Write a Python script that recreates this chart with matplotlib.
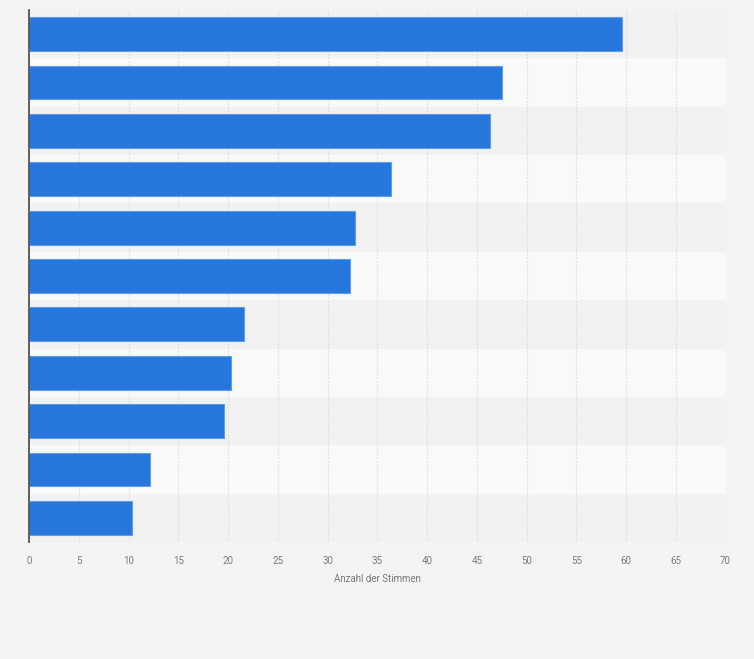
import matplotlib
matplotlib.use("Agg")
import matplotlib.pyplot as plt
import numpy as np

categories = ["A", "B", "C", "D", "E", "F", "G", "H", "I", "J", "K"]
values = [59.6, 47.5, 46.3, 36.4, 32.7, 32.2, 21.6, 20.3, 19.6, 12.1, 10.3]
xticks = list(range(0, 75, 5))
xlabel = "Anzahl der Stimmen"

plt.rcParams['font.family'] = ['Roboto', 'DejaVu Sans']

fig = plt.figure(figsize=(7.54, 6.59), dpi=100, facecolor="#f4f4f4")
ax = fig.add_axes([29.3 / 754, 1 - 542 / 659, (725.5 - 29.3) / 754, (542 - 10) / 659])
ax.set_facecolor("#f9f9f9")

n = len(categories)
y = np.arange(n)
for i in range(n):
    ax.axhspan(i - 0.5, i + 0.5, color="#f2f2f2" if i % 2 == 0 else "#f9f9f9", zorder=0, lw=0)

ax.barh(y, values, height=0.7, color="#2776db", edgecolor="#5f9ce9", linewidth=0.8, zorder=3)

ax.set_xlim(0, 70)
ax.set_ylim(n - 0.5, -0.5)
ax.set_xticks(xticks)
ax.set_xticklabels([str(t) for t in xticks], fontsize=7, color="#7a7a7a")
ax.set_yticks([])
ax.tick_params(axis="x", length=0, pad=10)
ax.grid(axis="x", color="#dedede", linestyle=(0, (1.5, 1.5)), linewidth=0.8, zorder=1)
ax.set_axisbelow(True)
for s in ["top", "right", "bottom"]:
    ax.spines[s].set_visible(False)
ax.spines["left"].set_color("#555555")
ax.spines["left"].set_linewidth(1.3)
ax.spines["left"].set_zorder(5)
ax.set_xlabel(xlabel, fontsize=7, color="#7a7a7a", labelpad=6)

fig.savefig("out.png", dpi=100, facecolor=fig.get_facecolor())
